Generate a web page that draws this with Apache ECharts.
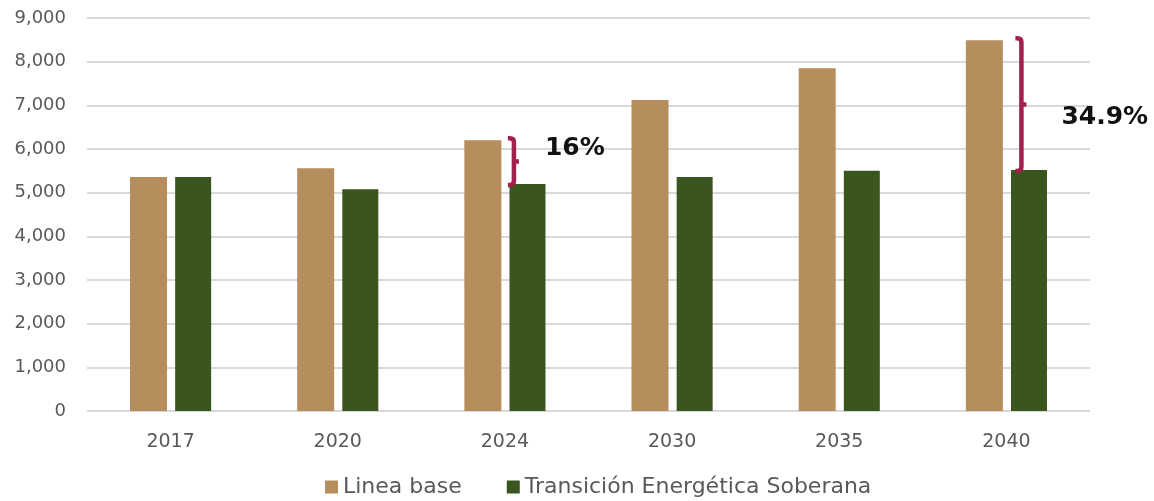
<!DOCTYPE html>
<html><head><meta charset="utf-8">
<script src="https://cdn.jsdelivr.net/npm/echarts@6/dist/echarts.min.js"></script>
<style>html,body{margin:0;padding:0;background:#fff}#c{width:1154px;height:501px}</style>
</head><body><div id="c"></div>
<script>
const categories = ['2017','2020','2024','2030','2035','2040'];
const lineaBase = [5360, 5560, 6200, 7120, 7850, 8490];
const transicion = [5360, 5080, 5200, 5360, 5500, 5520];
const braceCategories = [2, 5];
const braceLabels = ['16%', '34.9%'];
const yTicks = [0, 1000, 2000, 3000, 4000, 5000, 6000, 7000, 8000, 9000];

// style-only settings
const braceXOffset = [9, 15];    // px right of category center
const labelDx = [31, 40];        // px from brace to label
const labelDy = [-13, 13];       // px vertical offset of label from brace middle

const braceData = braceCategories.map((c, i) => [c, lineaBase[c], transicion[c], i]);

const chart = echarts.init(document.getElementById('c'));
chart.setOption({
  animation: false,
  grid: {left: 87, right: 64, top: 18, bottom: 90},
  legend: {
    top: 471, left: 320, itemWidth: 13, itemHeight: 13, itemGap: 45,
    icon: 'rect',
    textStyle: {fontFamily: 'DejaVu Sans', fontSize: 22, color: '#595959', padding: [0, 0, 0, 0]},
    data: ['Linea base', 'Transición Energética Soberana']
  },
  xAxis: {
    type: 'category', data: categories,
    axisLine: {show: false}, axisTick: {show: false},
    axisLabel: {margin: 22, fontFamily: 'DejaVu Sans', fontSize: 19, color: '#595959'}
  },
  yAxis: {
    type: 'value', min: 0, max: 9000, interval: 1000,
    axisLine: {show: false}, axisTick: {show: false},
    splitLine: {lineStyle: {color: '#d9d9d9', width: 2}},
    axisLabel: {margin: 21, fontFamily: 'DejaVu Sans', fontSize: 18, color: '#595959',
      formatter: v => v.toLocaleString('en-US')}
  },
  series: [
    {name: 'Linea base', type: 'bar', data: lineaBase, barWidth: 37, barGap: '22%',
      itemStyle: {color: '#B68D5C'}},
    {name: 'Transición Energética Soberana', type: 'bar', data: transicion, barWidth: 36,
      itemStyle: {color: '#3A561E'}},
    {name: 'brace', type: 'custom', data: braceData, z: 10,
      renderItem: function (params, api) {
        const c = api.value(0), hi = api.value(1), lo = api.value(2), i = api.value(3);
        const pTop = api.coord([c, hi]);
        const pBot = api.coord([c, lo]);
        const x = pTop[0] + braceXOffset[i];
        const y1 = pTop[1] - 2, y2 = pBot[1] + 1, ym = (y1 + y2) / 2;
        const h = 6, n = 5, r = 4;
        const path = `M${x - h} ${y1} L${x - r} ${y1} Q${x} ${y1} ${x} ${y1 + r} L${x} ${y2 - r} Q${x} ${y2} ${x - r} ${y2} L${x - h} ${y2} M${x} ${ym} L${x + n} ${ym}`;
        return {
          type: 'group',
          children: [
            {type: 'path', shape: {pathData: path},
              style: {fill: null, stroke: '#A3204C', lineWidth: 4.5}},
            {type: 'text', x: x + labelDx[i], y: ym + labelDy[i],
              style: {text: braceLabels[i], fill: '#111', fontFamily: 'DejaVu Sans',
                fontWeight: 'bold', fontSize: 25, verticalAlign: 'middle', align: 'left'}}
          ]
        };
      }
    }
  ]
});
</script></body></html>
